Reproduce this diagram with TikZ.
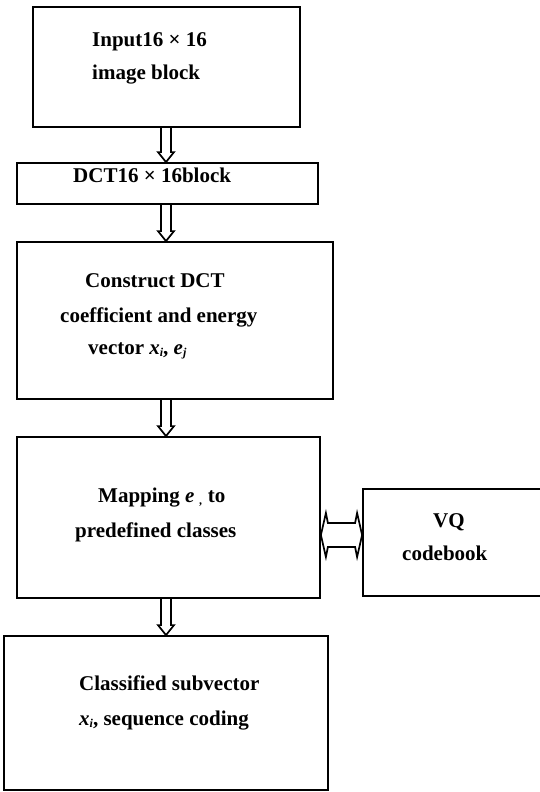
\documentclass[tikz,border=0pt]{standalone}
\usepackage{fontspec}
\setmainfont{Liberation Serif}
\usetikzlibrary{calc}
\newcommand\sbb[1]{\raisebox{-0.3ex}{\fontsize{12pt}{12pt}\selectfont\bfseries\itshape #1}}
\newcommand\bvar[1]{{\bfseries\itshape #1}}
% hollow downward arrow from node #1 to node #2 at x of (ax)
\newcommand\vflow[2]{%
  \draw[arr] let \p1=(#1.south -| ax), \p2=(#2.north -| ax) in
    (\x1-5pt,\y1) -- (\x1-5pt,\y2+10pt) -- (\x1-8pt,\y2+10pt) -- (\x2,\y2)
    -- (\x1+8pt,\y2+10pt) -- (\x1+5pt,\y2+10pt) -- (\x1+5pt,\y1);}
% hollow double-headed horizontal arrow between node #1 (left) and #2 (right) at y of (ay)
\newcommand\hflow[2]{%
  \draw[arr] let \p1=(#1.east |- ay), \p2=(#2.west |- ay) in
    (\x1,\y1) -- (\x1+5pt,\y1+22pt) -- (\x1+7pt,\y1+12pt) -- (\x2-7pt,\y1+12pt)
    -- (\x2-5pt,\y1+22pt) -- (\x2,\y2) -- (\x2-5pt,\y1-22pt) -- (\x2-7pt,\y1-12pt)
    -- (\x1+7pt,\y1-12pt) -- (\x1+5pt,\y1-22pt) -- cycle;}
\begin{document}
\begin{tikzpicture}[x=1pt,y=-1pt,
  box/.style={draw, line width=1.8pt, rectangle, inner sep=0pt},
  txt/.style={font=\fontsize{21pt}{21pt}\selectfont\bfseries, inner sep=0pt, anchor=base west},
  arr/.style={draw, line width=1.7pt, line join=miter},
  ]
\useasboundingbox (0,0) rectangle (539,792);
% boxes
\node[box, minimum width=267pt, minimum height=120pt] (b1) at (166.5,67) {};
\node[box, minimum width=301pt, minimum height=41pt] (b2) at (167.5,183.5) {};
\node[box, minimum width=316pt, minimum height=157pt] (b3) at (175,320.5) {};
\node[box, minimum width=303pt, minimum height=161pt] (b4) at (168.5,517.5) {};
\node[box, minimum width=197pt, minimum height=107pt] (vq) at (461.5,542.5) {};
\node[box, minimum width=324pt, minimum height=154pt] (b5) at (166,713) {};
% texts
\node[txt] (t1a) at (92,47) {Input16 × 16};
\node[txt] (t1b) at (92,80) {image block};
\node[txt] (t2) at (73,182) {DCT16 × 16block};
\node[txt] (t3a) at (85,287) {Construct DCT};
\node[txt] (t3b) at (60,322) {coefficient and energy};
\node[txt] (t3c) at (88,354) {vector \bvar{x}\sbb{i}, \bvar{e}\sbb{j}};
\node[txt] (t4a) at (98,502) {Mapping \bvar{e} \sbb{,} to};
\node[txt] (t4b) at (75,537) {predefined classes};
\node[txt] (v1) at (433,527) {VQ};
\node[txt] (v2) at (402,560) {codebook};
\node[txt] (t5a) at (79,690) {Classified subvector};
\node[txt] (t5b) at (79,725) {\bvar{x}\sbb{i}, sequence coding};
% connectors
\coordinate (ax) at (166,0);
\coordinate (ay) at (0,535);
\vflow{b1}{b2}
\vflow{b2}{b3}
\vflow{b3}{b4}
\vflow{b4}{b5}
\hflow{b4}{vq}
\end{tikzpicture}
\end{document}
